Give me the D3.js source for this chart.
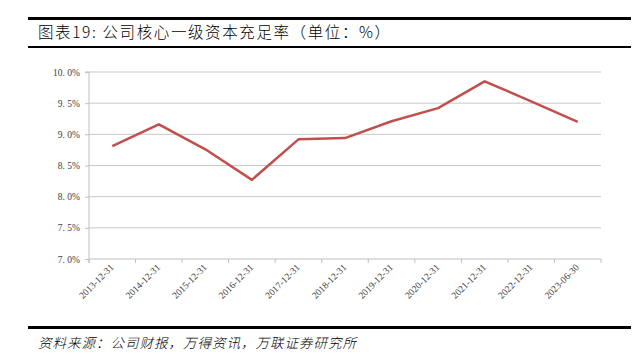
<!DOCTYPE html>
<html>
<head>
<meta charset="utf-8">
<script src="https://cdn.jsdelivr.net/npm/d3@7"></script>
<style>
body { margin: 0; background: #fff; }
</style>
</head>
<body>
<script>
// data
const dates = ["2013-12-31", "2014-12-31", "2015-12-31", "2016-12-31", "2017-12-31",
    "2018-12-31", "2019-12-31", "2020-12-31", "2021-12-31", "2022-12-31", "2023-06-30"];
const ratio = [8.81, 9.16, 8.76, 8.27, 8.92, 8.94, 9.21, 9.42, 9.85, 9.53, 9.20];
const yTicks = [7.0, 7.5, 8.0, 8.5, 9.0, 9.5, 10.0];

const width = 639, height = 363;
const svg = d3.select("body").append("svg")
    .attr("width", width)
    .attr("height", height);

const cjk = "'Noto Sans CJK SC', sans-serif";

// header rules + title
svg.append("rect").attr("x", 28).attr("y", 17).attr("width", 603).attr("height", 3).attr("fill", "#000");
svg.append("rect").attr("x", 28).attr("y", 46).attr("width", 603).attr("height", 2).attr("fill", "#000");
svg.append("text")
    .attr("x", 38).attr("y", 38)
    .attr("font-family", cjk)
    .attr("font-size", 15.5)
    .attr("font-weight", 300)
    .attr("letter-spacing", 1.6)
    .attr("fill", "#000")
    .text("图表19: 公司核心一级资本充足率（单位：%）");

// footer
svg.append("rect").attr("x", 28).attr("y", 326).attr("width", 603).attr("height", 3).attr("fill", "#000");
svg.append("text")
    .attr("x", 38).attr("y", 348)
    .attr("font-family", cjk)
    .attr("font-size", 13.5)
    .attr("font-weight", 300)
    .attr("font-style", "italic")
    .attr("letter-spacing", 1)
    .attr("fill", "#000")
    .text("资料来源：公司财报，万得资讯，万联证券研究所");

const plotL = 89, plotR = 601, plotT = 72, plotB = 259;

const x = d3.scaleBand().domain(dates).range([plotL, plotR]);
const y = d3.scaleLinear().domain([7, 10]).range([plotB, plotT]);

// gridlines
svg.append("g")
    .selectAll("line")
    .data(yTicks.slice(1))
    .enter().append("line")
    .attr("x1", plotL).attr("x2", plotR)
    .attr("y1", d => y(d)).attr("y2", d => y(d))
    .attr("stroke", "#c9c9c9")
    .attr("stroke-width", 1);

// y axis
const yAxis = svg.append("g")
    .attr("transform", `translate(${plotL},0)`)
    .call(d3.axisLeft(y).tickValues(yTicks).tickSize(4).tickPadding(5)
        .tickFormat(d => d3.format(".1f")(d).replace(".", ". ") + "%"));
yAxis.select(".domain").attr("stroke", "#bfbfbf").attr("d", `M-4,${plotT}H0V${plotB + 4}`);
yAxis.selectAll(".tick line").attr("stroke", "#bfbfbf");
yAxis.selectAll("text")
    .attr("font-family", "'Liberation Serif', serif")
    .attr("font-size", 9.5)
    .attr("fill", "#404040");

// x axis, ticks on category boundaries
const bounds = dates.map(d => x(d)).concat([plotR]);
const xAxis = svg.append("g");
xAxis.append("line")
    .attr("x1", plotL).attr("x2", plotR)
    .attr("y1", plotB).attr("y2", plotB)
    .attr("stroke", "#bfbfbf");
xAxis.selectAll("line.tk")
    .data(bounds)
    .enter().append("line")
    .attr("class", "tk")
    .attr("x1", d => d).attr("x2", d => d)
    .attr("y1", plotB).attr("y2", plotB + 4)
    .attr("stroke", "#bfbfbf");
xAxis.selectAll("text")
    .data(dates)
    .enter().append("text")
    .attr("transform", d => `translate(${x(d) + x.bandwidth() / 2 + 2},${plotB + 9}) rotate(-45)`)
    .attr("text-anchor", "end")
    .attr("font-family", "'Liberation Serif', serif")
    .attr("font-size", 9.5)
    .attr("fill", "#404040")
    .text(d => d);

// line
const line = d3.line()
    .x((d, i) => x(dates[i]) + x.bandwidth() / 2)
    .y(d => y(d));
svg.append("path")
    .datum(ratio)
    .attr("d", line)
    .attr("fill", "none")
    .attr("stroke", "#c0504d")
    .attr("stroke-width", 2.5)
    .attr("stroke-linejoin", "round");
</script>
</body>
</html>
